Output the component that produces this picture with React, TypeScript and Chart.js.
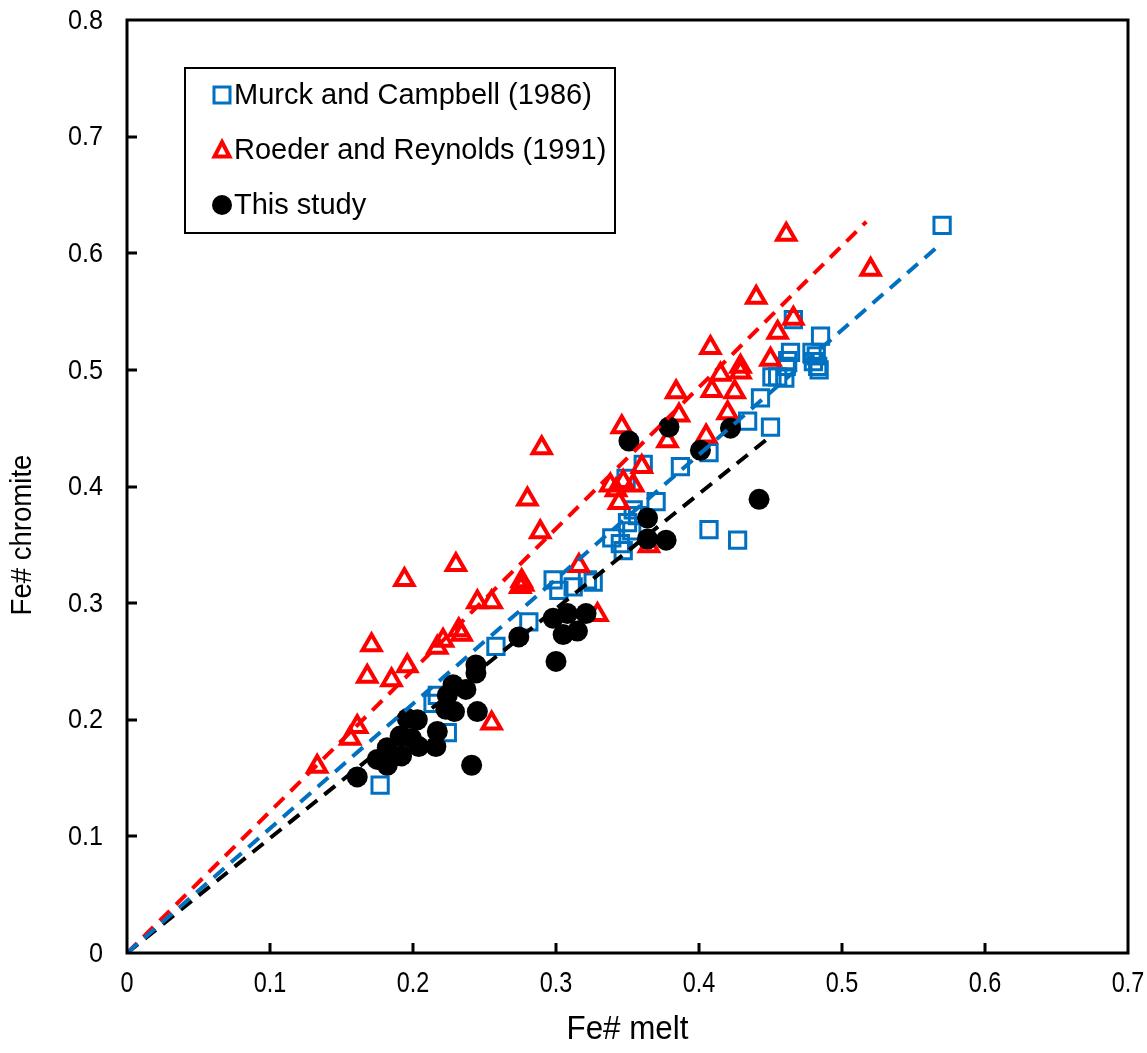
import React, { useEffect, useRef } from "react";
import { Chart, registerables } from "chart.js";

Chart.register(...registerables);

// Murck and Campbell (1986)
const murckX = [0.177, 0.214, 0.217, 0.224, 0.258, 0.281, 0.298, 0.302, 0.312, 0.322, 0.326, 0.339, 0.345, 0.347, 0.350, 0.353, 0.354, 0.357, 0.349, 0.361, 0.370, 0.387, 0.407, 0.407, 0.427, 0.434, 0.450, 0.443, 0.451, 0.455, 0.460, 0.461, 0.462, 0.464, 0.466, 0.479, 0.482, 0.480, 0.483, 0.484, 0.485, 0.570];
const murckY = [0.144, 0.214, 0.221, 0.189, 0.263, 0.284, 0.320, 0.311, 0.314, 0.320, 0.318, 0.356, 0.351, 0.345, 0.369, 0.362, 0.380, 0.375, 0.407, 0.419, 0.387, 0.417, 0.429, 0.363, 0.354, 0.456, 0.451, 0.476, 0.494, 0.494, 0.493, 0.503, 0.508, 0.515, 0.543, 0.515, 0.512, 0.507, 0.503, 0.500, 0.529, 0.624];

// Roeder and Reynolds (1991)
const roederX = [0.133, 0.156, 0.161, 0.168, 0.171, 0.185, 0.194, 0.196, 0.217, 0.221, 0.230, 0.232, 0.234, 0.245, 0.255, 0.255, 0.275, 0.276, 0.277, 0.280, 0.289, 0.290, 0.316, 0.329, 0.338, 0.342, 0.344, 0.346, 0.347, 0.354, 0.360, 0.365, 0.378, 0.384, 0.386, 0.405, 0.408, 0.409, 0.415, 0.420, 0.425, 0.429, 0.429, 0.440, 0.450, 0.455, 0.461, 0.466, 0.520];
const roederY = [0.160, 0.184, 0.194, 0.237, 0.264, 0.234, 0.320, 0.246, 0.262, 0.268, 0.333, 0.277, 0.273, 0.301, 0.301, 0.197, 0.314, 0.319, 0.316, 0.389, 0.361, 0.433, 0.332, 0.290, 0.401, 0.397, 0.386, 0.451, 0.404, 0.401, 0.417, 0.349, 0.439, 0.481, 0.461, 0.443, 0.519, 0.482, 0.496, 0.463, 0.481, 0.503, 0.498, 0.562, 0.509, 0.532, 0.616, 0.544, 0.586];

// This study
const studyX = [0.161, 0.175, 0.182, 0.184, 0.182, 0.191, 0.192, 0.196, 0.199, 0.203, 0.204, 0.216, 0.217, 0.223, 0.229, 0.228, 0.237, 0.224, 0.244, 0.244, 0.245, 0.241, 0.274, 0.298, 0.300, 0.305, 0.308, 0.315, 0.321, 0.351, 0.364, 0.364, 0.377, 0.379, 0.401, 0.422, 0.442];
const studyY = [0.151, 0.166, 0.161, 0.167, 0.176, 0.186, 0.169, 0.201, 0.184, 0.200, 0.177, 0.177, 0.190, 0.209, 0.207, 0.230, 0.226, 0.221, 0.240, 0.247, 0.207, 0.161, 0.271, 0.287, 0.250, 0.273, 0.291, 0.276, 0.291, 0.439, 0.355, 0.373, 0.354, 0.451, 0.431, 0.450, 0.389];

// Regression lines through the origin: end point of each fit
const seriesNames = ["Murck and Campbell (1986)", "Roeder and Reynolds (1991)", "This study"];
const fitEndX = [0.570, 0.517, 0.447];
const fitEndY = [0.609, 0.627, 0.440];

const xTickValues = [0, 0.1, 0.2, 0.3, 0.4, 0.5, 0.6, 0.7];
const yTickValues = [0, 0.1, 0.2, 0.3, 0.4, 0.5, 0.6, 0.7, 0.8];
const xTitle = "Fe# melt";
const yTitle = "Fe# chromite";

const BLUE = "#0070C0";
const RED = "#FF0000";
const BLACK = "#000000";
const FONT = "'Liberation Sans', Arial, sans-serif";

const toPoints = (xs: number[], ys: number[]) => xs.map((x, i) => ({ x, y: ys[i] }));
const fmt = (v: number) => String(Number(v.toFixed(1)));

// Plot frame with inward tick marks
const framePlugin = {
  id: "frame",
  afterDatasetsDraw(chart: any) {
    const { ctx, chartArea: a, scales } = chart;
    ctx.save();
    ctx.strokeStyle = BLACK;
    ctx.lineWidth = 3;
    ctx.beginPath();
    xTickValues.slice(1, -1).forEach((v) => {
      const px = Math.round(scales.x.getPixelForValue(v));
      ctx.moveTo(px, a.bottom);
      ctx.lineTo(px, a.bottom - 10);
    });
    yTickValues.slice(1, -1).forEach((v) => {
      const py = Math.round(scales.y.getPixelForValue(v));
      ctx.moveTo(a.left, py);
      ctx.lineTo(a.left + 10, py);
    });
    ctx.stroke();
    ctx.strokeRect(a.left, a.top, a.right - a.left, a.bottom - a.top);
    ctx.restore();
  },
};

// Tick labels and axis titles (narrow, tall lettering)
const axisTextPlugin = {
  id: "axisText",
  afterDraw(chart: any) {
    const { ctx, chartArea: a, scales } = chart;
    ctx.save();
    ctx.fillStyle = BLACK;
    ctx.textBaseline = "middle";

    ctx.font = `30px ${FONT}`;
    ctx.textAlign = "center";
    xTickValues.forEach((v) => {
      const px = scales.x.getPixelForValue(v);
      ctx.save();
      ctx.translate(px, a.bottom + 31);
      ctx.scale(0.78, 1);
      ctx.fillText(fmt(v), 0, 0);
      ctx.restore();
    });

    ctx.font = `28px ${FONT}`;
    ctx.textAlign = "right";
    yTickValues.forEach((v) => {
      const py = scales.y.getPixelForValue(v);
      ctx.save();
      ctx.translate(a.left - 24, py + 1);
      ctx.scale(0.9, 1);
      ctx.fillText(fmt(v), 0, 0);
      ctx.restore();
    });

    ctx.font = `33px ${FONT}`;
    ctx.textAlign = "center";
    ctx.save();
    ctx.translate((a.left + a.right) / 2, a.bottom + 77);
    ctx.scale(0.95, 1);
    ctx.fillText(xTitle, 0, 0);
    ctx.restore();

    ctx.font = `29px ${FONT}`;
    ctx.save();
    ctx.translate(23, 535);
    ctx.rotate(-Math.PI / 2);
    ctx.scale(0.95, 1);
    ctx.fillText(yTitle, 0, 0);
    ctx.restore();

    ctx.restore();
  },
};

function drawMarker(ctx: CanvasRenderingContext2D, kind: string, x: number, y: number) {
  ctx.save();
  if (kind === "rect") {
    ctx.strokeStyle = BLUE;
    ctx.lineWidth = 3;
    ctx.strokeRect(x - 8, y - 8, 16, 16);
  } else if (kind === "triangle") {
    ctx.strokeStyle = RED;
    ctx.lineWidth = 4;
    ctx.lineJoin = "miter";
    ctx.beginPath();
    ctx.moveTo(x, y - 8);
    ctx.lineTo(x + 7.5, y + 6.5);
    ctx.lineTo(x - 7.5, y + 6.5);
    ctx.closePath();
    ctx.stroke();
  } else {
    ctx.fillStyle = BLACK;
    ctx.beginPath();
    ctx.arc(x, y, 10, 0, Math.PI * 2);
    ctx.fill();
  }
  ctx.restore();
}

// Boxed legend inside the plot area
const legendPlugin = {
  id: "boxLegend",
  afterDraw(chart: any) {
    const { ctx, chartArea: a } = chart;
    const left = a.left + 58;
    const top = a.top + 48;
    const w = 430;
    const h = 165;
    ctx.save();
    ctx.fillStyle = "#fff";
    ctx.fillRect(left, top, w, h);
    ctx.strokeStyle = BLACK;
    ctx.lineWidth = 2;
    ctx.strokeRect(left, top, w, h);
    const kinds = ["rect", "triangle", "circle"];
    ctx.font = `29px ${FONT}`;
    ctx.fillStyle = BLACK;
    ctx.textBaseline = "middle";
    ctx.textAlign = "left";
    seriesNames.forEach((name, i) => {
      const cy = top + 27 + i * 55;
      drawMarker(ctx, kinds[i], left + 37, cy);
      ctx.fillText(name, left + 49, cy + 1);
    });
    ctx.restore();
  },
};

export default function App() {
  const canvasRef = useRef<HTMLCanvasElement | null>(null);

  useEffect(() => {
    document.body.style.margin = "0";
    const canvas = canvasRef.current;
    if (!canvas) return;

    const fitColors = [BLUE, RED, BLACK];
    const fitDatasets = fitEndX.map((xe, i) => ({
      type: "scatter" as const,
      label: `fit ${seriesNames[i]}`,
      data: [
        { x: 0, y: 0 },
        { x: xe, y: fitEndY[i] },
      ],
      showLine: true,
      borderColor: fitColors[i],
      borderWidth: 4,
      borderDash: [14, 9],
      pointRadius: 0,
      fill: false,
      order: 0,
    }));

    const noPad = (s: any) => {
      s.paddingLeft = 0;
      s.paddingRight = 0;
      s.paddingTop = 0;
      s.paddingBottom = 0;
    };

    const chart = new Chart(canvas, {
      type: "scatter",
      data: {
        datasets: [
          {
            label: seriesNames[2],
            data: toPoints(studyX, studyY),
            pointStyle: "circle",
            pointRadius: 10.5,
            backgroundColor: BLACK,
            borderColor: BLACK,
            borderWidth: 0,
            order: 1,
          },
          {
            label: seriesNames[1],
            data: toPoints(roederX, roederY),
            pointStyle: "triangle",
            pointRadius: 10.5,
            backgroundColor: "rgba(0,0,0,0)",
            borderColor: RED,
            borderWidth: 4,
            order: 2,
          },
          {
            label: seriesNames[0],
            data: toPoints(murckX, murckY),
            pointStyle: "rect",
            pointRadius: 11.5,
            backgroundColor: "rgba(0,0,0,0)",
            borderColor: BLUE,
            borderWidth: 3,
            order: 3,
          },
          ...fitDatasets,
        ],
      },
      options: {
        animation: false,
        responsive: false,
        devicePixelRatio: 1,
        layout: { padding: { top: 20, right: 19, left: 0, bottom: 0 } },
        plugins: {
          legend: { display: false },
          tooltip: { enabled: false },
        },
        scales: {
          x: {
            type: "linear",
            min: 0,
            max: 0.7,
            afterFit: (s: any) => {
              s.height = 100;
              noPad(s);
            },
            grid: { display: false },
            border: { display: false },
            ticks: { display: false, stepSize: 0.1 },
          },
          y: {
            type: "linear",
            min: 0,
            max: 0.8,
            afterFit: (s: any) => {
              s.width = 127;
              noPad(s);
            },
            grid: { display: false },
            border: { display: false },
            ticks: { display: false, stepSize: 0.1 },
          },
        },
      },
      plugins: [framePlugin, axisTextPlugin, legendPlugin],
    });

    return () => chart.destroy();
  }, []);

  return (
    <div style={{ width: 1147, height: 1053, background: "#fff" }}>
      <canvas ref={canvasRef} width={1147} height={1053} style={{ display: "block" }} />
    </div>
  );
}
